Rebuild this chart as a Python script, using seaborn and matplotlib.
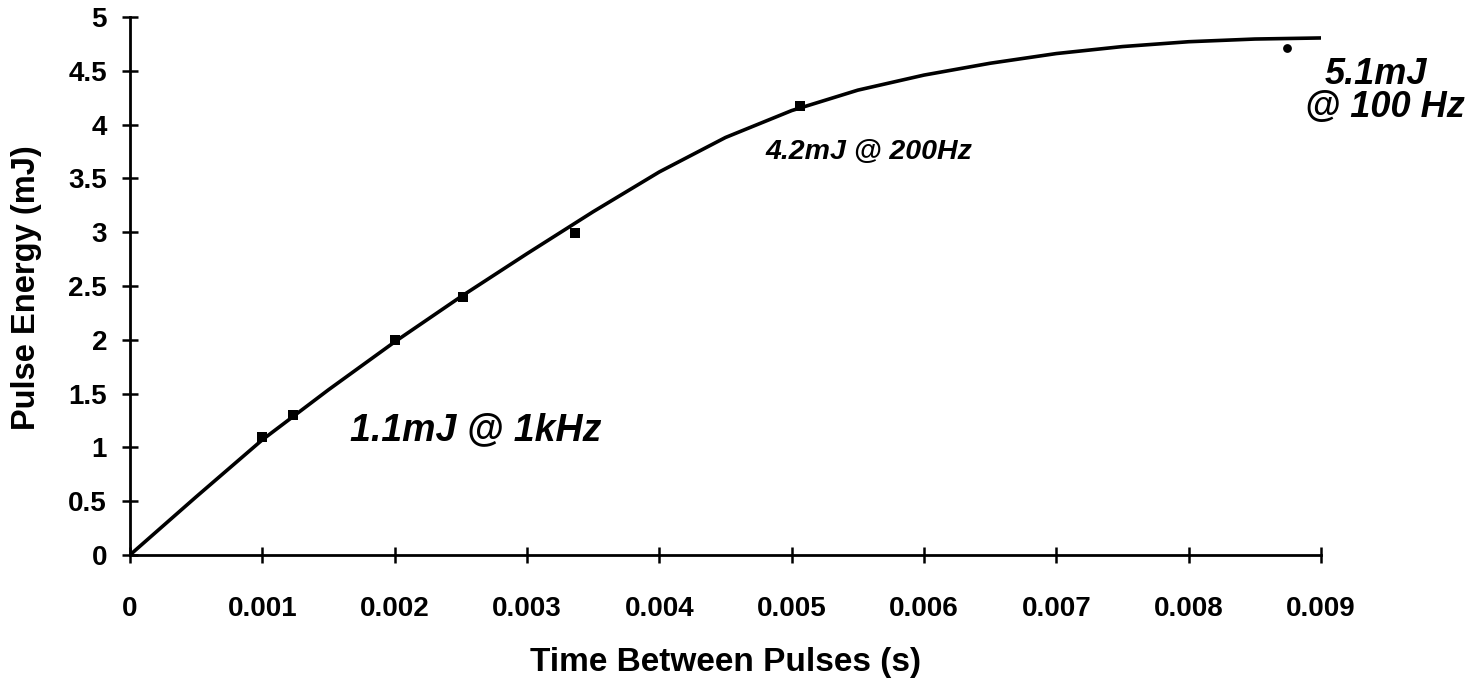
import numpy as np
import pandas as pd
import matplotlib
matplotlib.use("Agg")
import matplotlib.pyplot as plt
import seaborn as sns

# Measured pulse energy versus time between pulses
time_s = [0.001, 0.00123, 0.002, 0.00252, 0.00336, 0.00506, 0.00874]
energy_mj = [1.1, 1.3, 2.0, 2.4, 2.99, 4.17, 4.71]

# Trendline through the measurements, sampled every 0.5 ms
trend_time_s = [0.0, 0.0005, 0.001, 0.0015, 0.002, 0.0025, 0.003, 0.0035,
                0.004, 0.0045, 0.005, 0.0055, 0.006, 0.0065, 0.007, 0.0075,
                0.008, 0.0085, 0.009]
trend_energy_mj = [0.0, 0.54, 1.07, 1.535, 1.98, 2.40, 2.80, 3.19,
                   3.56, 3.88, 4.13, 4.32, 4.46, 4.57, 4.66, 4.725,
                   4.77, 4.795, 4.805]

x_ticks = [0, 0.001, 0.002, 0.003, 0.004, 0.005, 0.006, 0.007, 0.008, 0.009]
y_ticks = [0, 0.5, 1, 1.5, 2, 2.5, 3, 3.5, 4, 4.5, 5]
x_tick_labels = ["0", "0.001", "0.002", "0.003", "0.004", "0.005",
                 "0.006", "0.007", "0.008", "0.009"]
y_tick_labels = ["0", "0.5", "1", "1.5", "2", "2.5", "3", "3.5", "4", "4.5", "5"]

notes = ["1.1mJ @ 1kHz", "4.2mJ @ 200Hz", "5.1mJ", "@ 100 Hz"]
note_x = [0.00166, 0.0048, 0.00903, 0.00888]
note_y = [1.16, 3.745, 4.47, 4.16]
note_size = [27, 20.5, 26, 26]

df = pd.DataFrame({"t": time_s, "e": energy_mj})
trend = pd.DataFrame({"t": trend_time_s, "e": trend_energy_mj})

sns.set_style("white")
plt.rcParams["font.family"] = ["Liberation Sans", "DejaVu Sans"]
plt.rcParams["font.weight"] = "bold"
plt.rcParams["text.color"] = "black"
plt.rcParams["axes.labelcolor"] = "black"

fig = plt.figure(figsize=(14.8, 6.9), dpi=100)
ax = fig.add_axes([0.0878, 0.1957, 0.8048, 0.7797])

sns.lineplot(data=trend, x="t", y="e", ax=ax, color="black", linewidth=2.6,
             solid_joinstyle="round", solid_capstyle="round")
sns.scatterplot(data=df.iloc[:-1], x="t", y="e", ax=ax, marker="s", s=55,
                color="black", edgecolor="black", linewidth=0, zorder=5)
sns.scatterplot(data=df.iloc[-1:], x="t", y="e", ax=ax, marker="o", s=40,
                color="black", edgecolor="black", linewidth=0, zorder=5)

ax.set_xlim(0, 0.009)
ax.set_ylim(0, 5)
ax.set_xticks(x_ticks)
ax.set_xticklabels(x_tick_labels)
ax.set_yticks(y_ticks)
ax.set_yticklabels(y_tick_labels)

for side in ("top", "right"):
    ax.spines[side].set_visible(False)
for side in ("left", "bottom"):
    ax.spines[side].set_color("black")
    ax.spines[side].set_linewidth(2.0)

ax.tick_params(axis="both", bottom=True, left=True, direction="inout",
               length=11, width=1.8, colors="black", labelsize=20)
ax.tick_params(axis="x", pad=24)
ax.tick_params(axis="y", pad=11)
for lab in ax.get_xticklabels() + ax.get_yticklabels():
    lab.set_fontweight("bold")

ax.set_xlabel("Time Between Pulses (s)", fontsize=24, fontweight="bold")
ax.set_ylabel("Pulse Energy (mJ)", fontsize=23.5, fontweight="bold")
ax.xaxis.set_label_coords(0.5, -0.2)
ax.yaxis.set_label_coords(-0.087, 0.497)
ax.xaxis.label.set_va("center")
ax.yaxis.label.set_va("center")

for txt, xx, yy, fs in zip(notes, note_x, note_y, note_size):
    ax.text(xx, yy, txt, fontsize=fs, fontstyle="italic", fontweight="bold",
            color="black", va="center", ha="left", clip_on=False)

fig.savefig("out.png", dpi=100, facecolor="white")
